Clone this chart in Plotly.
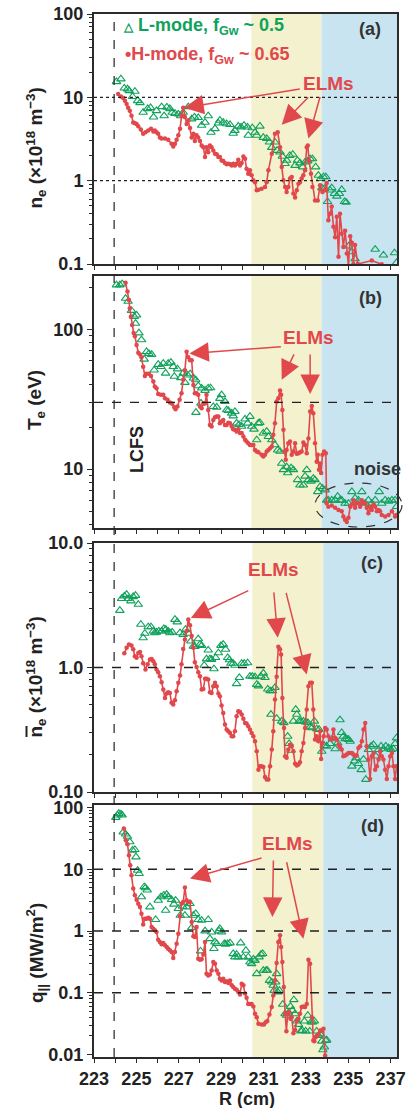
import math
import plotly.graph_objects as go

# ---------------- data ----------------
# (a) electron density n_e (1e18 m^-3)
R_L_ne = [224.06, 224.27, 224.43, 224.58, 224.66, 224.82, 224.93, 225.06, 225.17, 225.32, 225.53, 225.67,
          225.81, 225.95, 226.19, 226.31, 226.44, 226.58, 226.69, 226.82, 226.98, 227.09, 227.21, 227.45,
          227.61, 227.74, 227.92, 228.08, 228.24, 228.39, 228.52, 228.71, 228.87, 228.94, 229.10, 229.26,
          229.42, 229.57, 229.65, 229.81, 229.94, 230.08, 230.24, 230.28, 230.47, 230.60, 230.68, 230.83,
          230.99, 231.15, 231.28, 231.39, 231.54, 231.64, 231.78, 231.89, 232.02, 232.09, 232.24, 232.38,
          232.49, 232.60, 232.72, 232.85, 232.96, 233.09, 233.20, 233.31, 233.46, 233.59, 233.70, 233.75,
          233.83, 233.87, 233.94, 234.02, 234.14, 234.22, 234.35, 234.46, 234.58, 234.69, 234.82, 234.90,
          235.01, 235.17, 235.32, 236.27, 236.66, 237.18, 237.28]
ne_L = [15.4, 16.6, 12.9, 12.6, 12.0, 10.2, 11.8, 9.1, 8.6, 6.6, 7.3, 7.5,
        5.8, 6.9, 7.7, 6.0, 7.6, 7.3, 6.6, 6.4, 6.3, 6.0, 6.6, 7.7,
        5.5, 5.8, 5.7, 4.6, 5.0, 6.0, 3.8, 4.2, 4.9, 5.3, 5.0, 4.8,
        4.7, 3.7, 4.0, 4.5, 4.4, 4.6, 4.4, 3.5, 4.3, 3.8, 3.5, 4.5,
        3.3, 3.2, 2.9, 2.5, 2.9, 2.3, 2.2, 1.96, 1.6, 1.75, 2.0, 2.07,
        1.52, 1.75, 1.63, 1.46, 1.67, 1.72, 1.83, 1.83, 1.46, 1.16, 1.06, 0.82,
        1.11, 0.80, 1.11, 0.56, 0.77, 0.82, 0.70, 0.65, 0.70, 0.78, 0.56, 0.55,
        0.164, 0.140, 0.115, 0.150, 0.128, 0.136, 0.104]

R_H_ne = [224.14, 224.27, 224.38, 224.46, 224.54, 224.61, 224.69, 224.77, 224.85, 224.93, 225.01, 225.09,
          225.21, 225.32, 225.43, 225.56, 225.69, 225.80, 225.87, 225.95, 226.03, 226.11, 226.19, 226.35,
          226.50, 226.66, 226.74, 226.82, 226.90, 226.98, 227.06, 227.13, 227.21, 227.29, 227.37, 227.45,
          227.53, 227.61, 227.69, 227.76, 227.84, 227.92, 228.00, 228.08, 228.16, 228.24, 228.31, 228.39,
          228.47, 228.55, 228.63, 228.71, 228.79, 228.87, 228.94, 229.02, 229.10, 229.18, 229.26, 229.34,
          229.42, 229.50, 229.57, 229.65, 229.73, 229.81, 229.89, 229.97, 230.05, 230.13, 230.20, 230.28,
          230.36, 230.44, 230.52, 230.60, 230.68, 230.76, 230.91, 231.07, 231.15, 231.23, 231.39, 231.54,
          231.67, 231.78, 231.86, 231.94, 232.02, 232.09, 232.17, 232.25, 232.33, 232.41, 232.49, 232.57,
          232.65, 232.72, 232.80, 232.88, 232.96, 233.04, 233.09, 233.15, 233.24, 233.31, 233.43, 233.56,
          233.67, 233.78, 233.87, 233.98, 234.06, 234.14, 234.22, 234.30, 234.38, 234.46, 234.54, 234.61,
          234.69, 234.77, 234.85, 234.93, 235.01, 235.09, 235.17, 235.24, 235.32, 235.45, 236.11, 236.58]
ne_H = [11.0, 10.2, 9.8, 9.1, 8.3, 7.5, 6.9, 6.0, 5.0, 4.9, 4.8, 4.5,
        4.1, 3.65, 3.8, 4.0, 4.2, 3.9, 4.0, 3.8, 3.65, 3.3, 3.2, 3.2,
        3.1, 2.77, 2.57, 2.77, 3.1, 3.5, 4.2, 6.0, 7.5, 5.8, 4.8, 5.3,
        4.3, 3.3, 3.65, 3.0, 3.5, 3.3, 3.0, 2.64, 2.52, 1.92, 2.52, 2.2,
        2.64, 2.52, 2.3, 2.1, 2.07, 1.92, 1.92, 1.75, 1.72, 1.63, 1.57, 1.6,
        1.57, 1.52, 1.6, 1.52, 1.6, 1.78, 1.52, 1.63, 1.95, 1.83, 1.39, 1.21,
        1.33, 1.16, 1.01, 0.96, 0.77, 0.78, 0.80, 0.84, 0.96, 1.33, 2.1, 3.65,
        3.8, 2.52, 1.46, 1.01, 0.84, 0.73, 0.84, 1.06, 1.11, 0.70, 0.63, 0.77,
        0.92, 0.96, 1.06, 1.16, 1.33, 2.52, 2.64, 1.75, 1.21, 0.84, 0.58, 0.58,
        0.88, 0.73, 0.77, 0.94, 0.336, 0.40, 0.49, 0.28, 0.21, 0.37, 0.122, 0.40,
        0.23, 0.16, 0.25, 0.134, 0.095, 0.216, 0.18, 0.10, 0.169, 0.10, 0.11, 0.099]

# (b) electron temperature T_e (eV)
R_L_Te = [224.06, 224.22, 224.33, 224.49, 224.61, 224.77, 224.90, 224.96, 225.01, 225.12, 225.24, 225.37,
          225.48, 225.59, 225.72, 225.84, 226.03, 226.16, 226.27, 226.38, 226.50, 226.63, 226.74, 226.79,
          226.94, 227.10, 227.21, 227.29, 227.42, 227.54, 227.69, 227.80, 227.81, 227.92, 228.05, 228.08,
          228.24, 228.39, 228.50, 228.63, 228.79, 228.94, 229.02, 229.18, 229.26, 229.34, 229.50, 229.57,
          229.65, 229.73, 229.84, 229.97, 230.13, 230.25, 230.36, 230.44, 230.55, 230.68, 230.76, 230.83,
          230.99, 231.15, 231.23, 231.39, 231.54, 231.67, 231.78, 231.86, 231.94, 232.09, 232.14, 232.30,
          232.41, 232.61, 232.72, 232.88, 232.96, 233.04, 233.12, 233.24, 233.35, 233.43, 233.56, 233.67,
          233.78, 233.91, 233.98, 234.06, 234.22, 234.38, 234.50, 234.61, 234.69, 234.85, 235.01, 235.17,
          235.32, 235.48, 235.64, 235.80, 235.95, 236.11, 236.27, 236.46, 236.58, 236.74, 236.90, 237.06,
          237.21, 237.28]
Te_L = [207, 207, 211, 166, 158, 136, 123, 110, 126, 94, 84, 61,
        69, 67, 66, 51, 56, 54, 57, 48.5, 57, 58, 54, 46,
        52, 45, 48.5, 41.6, 47, 48, 44.7, 43.5, 25.4, 39.4, 29.6, 37.9,
        36.5, 37.9, 38.1, 28, 27.7, 32, 34, 30.4, 26.5, 26.2, 25.1, 24,
        25.8, 21.3, 20.8, 20.2, 22.8, 21.3, 23.8, 20.2, 19.3, 16.2, 21.3, 21.5,
        18.1, 18.6, 17.1, 16.2, 14.9, 13.7, 13.4, 11.0, 9.9, 10.4, 9.4, 10.2,
        9.9, 8.4, 7.7, 7.7, 8.9, 9.9, 8.4, 8.2, 8.6, 8.4, 6.9, 7.5,
        7.3, 7.1, 6.0, 6.0, 6.0, 6.0, 6.4, 6.0, 6.0, 5.7, 5.7, 6.9,
        6.2, 6.0, 6.9, 5.7, 6.0, 5.7, 6.0, 6.9, 5.7, 6.0, 5.9, 6.0,
        6.0, 5.4]

R_H_Te = [224.49, 224.58, 224.65, 224.69, 224.74, 224.80, 224.87, 224.93, 225.01, 225.09, 225.17, 225.24,
          225.32, 225.40, 225.48, 225.59, 225.69, 225.80, 225.87, 225.95, 226.03, 226.16, 226.27, 226.35,
          226.47, 226.58, 226.69, 226.79, 226.85, 226.94, 227.04, 227.13, 227.21, 227.29, 227.37, 227.45,
          227.53, 227.61, 227.69, 227.76, 227.84, 227.92, 228.00, 228.08, 228.16, 228.24, 228.31, 228.39,
          228.47, 228.55, 228.63, 228.71, 228.79, 228.87, 228.94, 229.02, 229.10, 229.18, 229.26, 229.34,
          229.42, 229.50, 229.57, 229.65, 229.73, 229.81, 229.89, 229.97, 230.05, 230.13, 230.20, 230.28,
          230.36, 230.44, 230.52, 230.60, 230.68, 230.76, 230.91, 230.99, 231.07, 231.15, 231.23, 231.31,
          231.39, 231.46, 231.54, 231.62, 231.70, 231.78, 231.83, 231.89, 231.94, 231.99, 232.05, 232.09,
          232.17, 232.25, 232.33, 232.41, 232.49, 232.57, 232.65, 232.72, 232.80, 232.88, 232.96, 233.04,
          233.12, 233.20, 233.28, 233.35, 233.43, 233.51, 233.56, 233.62, 233.67, 233.72, 233.78, 233.86,
          233.94, 233.98, 234.06, 234.22, 234.38, 234.54, 234.69, 234.77, 234.85, 234.93, 235.01, 235.09,
          235.17, 235.24, 235.32, 235.40, 235.48, 235.56, 235.64, 235.72, 235.80, 235.87, 235.95, 236.03,
          236.11, 236.19, 236.27, 236.35, 236.43, 236.50, 236.58, 236.74, 236.90, 237.06, 237.21, 237.28]
Te_H = [215, 186, 162, 141, 123, 107, 94, 89, 77, 68, 66, 63,
        54, 46.4, 48, 48, 46.4, 42.3, 38.9, 37.9, 34.5, 34, 34, 32.1,
        31.3, 29.9, 29.3, 27.7, 26.8, 28.1, 31.3, 34.9, 43.5, 51, 69, 63,
        60, 60, 40, 34.9, 34.9, 34, 28.1, 27.3, 29.6, 29.6, 34, 26.5,
        20.7, 20.2, 22.5, 23.5, 23.8, 23.8, 21.3, 21.9, 22.5, 20.7, 20.7, 21.5,
        21.3, 20.2, 19.3, 19.1, 18.6, 19.3, 18.1, 18.1, 17.1, 16.2, 15.8, 15.3,
        14.9, 14.9, 14.9, 13.7, 13.4, 13.2, 12.7, 12.3, 12.7, 13.4, 13.7, 14.1,
        14.5, 17.6, 21.3, 30.4, 32.1, 36.5, 34, 26.5, 19.1, 13.4, 11.7, 13.7,
        15.3, 15.8, 12.7, 13.4, 15.3, 12.9, 13.0, 13.2, 13.4, 15.5, 14.9, 13.0,
        16.6, 25.8, 28.3, 25.1, 15.3, 11.3, 12.7, 9.9, 11.0, 9.4, 12.7, 13.4,
        13.0, 5.7, 5.4, 5.5, 5.3, 5.1, 5.0, 4.6, 4.35, 4.2, 4.5, 5.4,
        5.6, 6.0, 5.3, 5.7, 5.7, 5.4, 6.0, 5.7, 5.7, 5.3, 4.85, 5.4,
        5.1, 5.6, 5.4, 5.0, 5.1, 5.0, 4.7, 4.6, 4.7, 5.0, 4.6, 4.7]

# (c) line-averaged density n_e-bar (1e18 m^-3)
R_L_nb = [224.22, 224.30, 224.43, 224.54, 224.61, 224.74, 224.85, 224.96, 225.09, 225.21, 225.32, 225.40,
          225.56, 225.69, 225.80, 225.87, 225.95, 226.06, 226.19, 226.30, 226.39, 226.50, 226.58, 226.69,
          226.82, 226.93, 227.06, 227.21, 227.32, 227.45, 227.57, 227.69, 227.76, 227.92, 228.00, 228.08,
          228.20, 228.31, 228.39, 228.47, 228.55, 228.66, 228.74, 228.87, 228.99, 229.10, 229.21, 229.31,
          229.39, 229.46, 229.57, 229.65, 229.73, 229.86, 229.97, 230.09, 230.25, 230.36, 230.47, 230.60,
          230.68, 230.76, 230.88, 230.99, 231.07, 231.20, 231.31, 231.35, 231.42, 231.54, 231.62, 231.86,
          231.96, 232.14, 232.21, 232.29, 232.41, 232.52, 232.57, 232.68, 232.77, 232.88, 232.99, 233.09,
          233.20, 233.28, 233.40, 233.51, 233.62, 233.75, 233.87, 233.98, 234.14, 234.25, 234.38, 234.50,
          234.61, 234.69, 234.77, 234.85, 234.93, 235.01, 235.09, 235.17, 235.29, 235.37, 235.48, 235.61,
          235.72, 235.83, 235.95, 236.08, 236.19, 236.30, 236.43, 236.55, 236.66, 236.77, 236.90, 237.02,
          237.13, 237.21, 237.28]
nb_L = [2.87, 3.57, 3.75, 3.86, 3.57, 3.42, 3.70, 3.79, 3.21, 2.22, 1.73, 1.88,
        2.12, 2.12, 1.96, 1.90, 1.92, 1.96, 1.96, 2.05, 2.02, 1.96, 1.90, 1.92,
        2.43, 2.32, 1.90, 1.84, 2.02, 1.88, 1.63, 1.48, 1.47, 1.70, 1.53, 1.50,
        1.04, 1.17, 1.38, 1.17, 1.16, 0.976, 1.20, 1.31, 1.50, 1.53, 1.40, 1.20,
        1.15, 1.08, 1.08, 1.04, 0.74, 0.83, 1.08, 1.08, 1.09, 0.85, 0.85, 0.84,
        0.73, 0.71, 0.85, 0.90, 0.83, 0.67, 0.65, 0.42, 0.65, 0.69, 0.39, 0.37,
        0.36, 0.28, 0.245, 0.216, 0.37, 0.46, 0.42, 0.37, 0.37, 0.37, 0.364, 0.36,
        0.333, 0.327, 0.37, 0.321, 0.318, 0.212, 0.236, 0.233, 0.245, 0.267, 0.222, 0.248,
        0.38, 0.30, 0.28, 0.267, 0.267, 0.264, 0.255, 0.161, 0.177, 0.188, 0.169, 0.151,
        0.183, 0.126, 0.219, 0.233, 0.240, 0.194, 0.219, 0.233, 0.222, 0.233, 0.226, 0.219,
        0.222, 0.245, 0.272]

R_H_nb = [224.43, 224.54, 224.65, 224.77, 224.85, 224.93, 225.01, 225.09, 225.17, 225.24, 225.32, 225.43,
          225.53, 225.64, 225.72, 225.80, 225.87, 225.95, 226.03, 226.11, 226.19, 226.27, 226.35, 226.43,
          226.50, 226.58, 226.66, 226.74, 226.82, 226.90, 226.98, 227.06, 227.13, 227.21, 227.29, 227.37,
          227.45, 227.53, 227.61, 227.69, 227.76, 227.84, 227.92, 228.00, 228.08, 228.16, 228.24, 228.31,
          228.39, 228.47, 228.55, 228.63, 228.71, 228.79, 228.87, 228.94, 229.02, 229.10, 229.18, 229.26,
          229.34, 229.42, 229.50, 229.57, 229.65, 229.73, 229.81, 229.89, 229.97, 230.05, 230.13, 230.20,
          230.28, 230.36, 230.44, 230.52, 230.60, 230.68, 230.76, 230.83, 230.91, 230.99, 231.07, 231.15,
          231.23, 231.31, 231.39, 231.46, 231.54, 231.62, 231.70, 231.78, 231.83, 231.89, 231.97, 232.02,
          232.09, 232.17, 232.25, 232.33, 232.41, 232.49, 232.57, 232.65, 232.72, 232.80, 232.88, 232.96,
          233.04, 233.12, 233.20, 233.28, 233.35, 233.43, 233.51, 233.59, 233.67, 233.72, 233.78, 233.84,
          233.91, 233.98, 234.06, 234.14, 234.22, 234.30, 234.38, 234.46, 234.54, 234.61, 234.69, 234.77,
          234.85, 234.93, 235.01, 235.09, 235.17, 235.24, 235.32, 235.40, 235.48, 235.56, 235.64, 235.72,
          235.80, 235.87, 235.95, 236.03, 236.11, 236.19, 236.27, 236.35, 236.43, 236.50, 236.58, 236.66,
          236.74, 236.82, 236.90, 236.98, 237.06, 237.13, 237.21, 237.28]
nb_H = [1.30, 1.44, 1.53, 1.50, 1.40, 1.23, 1.20, 1.31, 1.33, 1.23, 1.08, 0.964,
        1.06, 1.16, 1.17, 1.12, 1.06, 0.964, 0.917, 0.851, 0.762, 0.665, 0.570, 0.618,
        0.633, 0.625, 0.520, 0.504, 0.546, 0.645, 0.753, 0.862, 1.06, 1.41, 1.68, 1.96,
        2.43, 2.18, 1.79, 1.44, 1.10, 1.01, 0.917, 0.851, 0.665, 0.673, 0.811, 0.811,
        0.80, 0.633, 0.625, 0.708, 0.753, 0.708, 0.618, 0.588, 0.495, 0.432, 0.348, 0.317,
        0.308, 0.298, 0.281, 0.281, 0.308, 0.406, 0.446, 0.44, 0.419, 0.387, 0.359, 0.355,
        0.337, 0.317, 0.298, 0.281, 0.256, 0.212, 0.151, 0.161, 0.161, 0.159, 0.132, 0.126,
        0.126, 0.161, 0.219, 0.308, 0.553, 0.841, 1.47, 1.40, 1.27, 0.570, 0.327, 0.194,
        0.188, 0.219, 0.240, 0.233, 0.212, 0.169, 0.163, 0.166, 0.173, 0.212, 0.248, 0.327,
        0.459, 0.708, 0.753, 0.753, 0.459, 0.264, 0.281, 0.256, 0.308, 0.184, 0.248, 0.281,
        0.327, 0.317, 0.281, 0.267, 0.264, 0.317, 0.272, 0.264, 0.240, 0.23, 0.219, 0.194,
        0.196, 0.20, 0.206, 0.206, 0.206, 0.20, 0.194, 0.196, 0.226, 0.233, 0.256, 0.317,
        0.359, 0.233, 0.182, 0.127, 0.194, 0.206, 0.151, 0.161, 0.182, 0.212, 0.194, 0.182,
        0.151, 0.127, 0.161, 0.194, 0.206, 0.161, 0.127, 0.161]

# (d) parallel heat flux q_par (MW/m^2)
R_L_q = [224.03, 224.11, 224.17, 224.27, 224.33, 224.38, 224.49, 224.58, 224.69, 224.82, 224.93, 224.98,
         225.06, 225.13, 225.24, 225.37, 225.43, 225.51, 225.64, 225.91, 226.03, 226.16, 226.30, 226.38,
         226.43, 226.50, 226.66, 226.77, 226.85, 226.98, 227.07, 227.18, 227.29, 227.37, 227.53, 227.61,
         227.69, 227.80, 227.92, 228.03, 228.08, 228.24, 228.39, 228.47, 228.55, 228.66, 228.71, 228.79,
         228.90, 228.94, 229.02, 229.15, 229.21, 229.31, 229.42, 229.57, 229.65, 229.73, 229.81, 229.92,
         230.05, 230.17, 230.28, 230.36, 230.44, 230.52, 230.60, 230.68, 230.79, 230.88, 230.96, 230.99,
         231.12, 231.18, 231.28, 231.39, 231.46, 231.50, 231.57, 231.62, 231.67, 231.75, 231.91, 232.02,
         232.09, 232.17, 232.27, 232.36, 232.43, 232.49, 232.57, 232.65, 232.76, 232.83, 232.93, 232.99,
         233.09, 233.18, 233.24, 233.32, 233.40, 233.51, 233.59, 233.67, 233.75, 233.80, 233.87, 233.94,
         233.98]
q_L = [68.9, 75, 80, 78, 75, 40, 37, 34, 27.7, 20.3, 20.8, 15.8,
       9.6, 8.5, 3.56, 5.2, 5.0, 4.6, 2.45, 1.53, 3.14, 3.56, 3.79, 2.16,
       3.9, 3.56, 3.22, 2.71, 3.14, 2.30, 1.79, 2.51, 1.79, 2.45, 2.77, 1.13,
       1.79, 1.91, 1.53, 0.474, 1.49, 1.0, 1.53, 0.75, 0.96, 0.518, 0.664, 0.625,
       1.0, 1.09, 0.96, 0.625, 0.61, 0.625, 0.64, 0.429, 0.379, 0.418, 0.379, 0.64,
       0.379, 0.485, 0.379, 0.314, 0.295, 0.35, 0.333, 0.203, 0.379, 0.418, 0.43, 0.23,
       0.23, 0.23, 0.158, 0.149, 0.132, 0.109, 0.149, 0.203, 0.103, 0.109, 0.065, 0.0456,
       0.043, 0.0468, 0.06, 0.0517, 0.077, 0.0456, 0.0347, 0.0306, 0.0239, 0.0245, 0.0347, 0.0239,
       0.043, 0.0239, 0.0335, 0.0335, 0.0347, 0.0239, 0.0203, 0.0215, 0.0164, 0.0119, 0.0132, 0.0168,
       0.0172]

R_H_q = [224.41, 224.50, 224.58, 224.65, 224.71, 224.77, 224.85, 224.93, 225.01, 225.09, 225.17, 225.24,
         225.32, 225.40, 225.48, 225.56, 225.64, 225.72, 225.80, 225.87, 225.95, 226.03, 226.11, 226.19,
         226.27, 226.35, 226.43, 226.50, 226.58, 226.66, 226.74, 226.82, 226.90, 226.98, 227.06, 227.13,
         227.21, 227.29, 227.37, 227.45, 227.53, 227.61, 227.69, 227.76, 227.84, 227.92, 228.00, 228.08,
         228.16, 228.24, 228.31, 228.39, 228.47, 228.55, 228.63, 228.71, 228.79, 228.87, 228.94, 229.02,
         229.10, 229.18, 229.26, 229.34, 229.42, 229.50, 229.57, 229.65, 229.73, 229.81, 229.89, 229.97,
         230.05, 230.13, 230.20, 230.28, 230.36, 230.44, 230.52, 230.60, 230.68, 230.76, 230.91, 231.02,
         231.10, 231.18, 231.28, 231.39, 231.46, 231.54, 231.62, 231.70, 231.78, 231.83, 231.89, 231.96,
         232.02, 232.08, 232.14, 232.21, 232.27, 232.33, 232.41, 232.49, 232.57, 232.65, 232.72, 232.80,
         232.88, 232.96, 233.04, 233.12, 233.20, 233.28, 233.35, 233.40, 233.46, 233.51, 233.59, 233.67,
         233.75, 233.83, 233.91]
q_H = [45.6, 29.5, 25.4, 16.9, 11.6, 8.0, 4.86, 3.79, 3.22, 2.77, 2.45, 1.91,
       1.28, 1.58, 1.58, 1.64, 1.58, 1.16, 1.09, 1.03, 0.96, 0.723, 0.664, 0.608,
       0.637, 0.586, 0.551, 0.518, 0.486, 0.456, 0.365, 0.456, 0.624, 0.905, 1.73, 2.77,
       2.95, 5.05, 3.14, 2.95, 2.95, 1.40, 0.82, 0.80, 1.16, 0.356, 0.342, 0.35,
       0.418, 0.664, 0.203, 0.19, 0.197, 0.23, 0.314, 0.295, 0.23, 0.203, 0.169, 0.158,
       0.169, 0.149, 0.154, 0.144, 0.158, 0.132, 0.124, 0.116, 0.112, 0.103, 0.094, 0.140,
       0.132, 0.097, 0.083, 0.066, 0.066, 0.066, 0.060, 0.0456, 0.0403, 0.0314, 0.0306, 0.0306,
       0.0334, 0.035, 0.0446, 0.0586, 0.0905, 0.158, 0.303, 0.664, 0.851, 0.55, 0.314, 0.124,
       0.0456, 0.0239, 0.0456, 0.0487, 0.0379, 0.0403, 0.0222, 0.025, 0.035, 0.0379, 0.0456, 0.0586,
       0.060, 0.0586, 0.066, 0.342, 0.295, 0.0403, 0.0169, 0.0164, 0.019, 0.0203, 0.021, 0.0245,
       0.0245, 0.0262, 0.0096]

# axis tick values / labels
R_major = [223, 225, 227, 229, 231, 233, 235, 237]
R_minor = [224, 226, 228, 230, 232, 234, 236]
ticks_a = [0.1, 1, 10, 100]
labels_a = ["0.1", "1", "10", "100"]
ticks_b = [10, 100]
labels_b = ["10", "100"]
ticks_c = [0.1, 1, 10]
labels_c = ["0.10", "1.0", "10.0"]
ticks_d = [0.01, 0.1, 1, 10, 100]
labels_d = ["0.01", "0.1", "1", "10", "100"]

# ---------------- styling ----------------
RED = "#e1484b"
GREEN = "#10a25c"
FRAME = "#2b2b2b"
DARK = "#333333"
YELLOW = "#f4f1cf"
BLUE = "#c8e4f1"
FONT = "Liberation Sans, Arial, Helvetica, sans-serif"
FS = 18

W, H = 414, 1108
ML, MR, MT, MB = 94, 17, 14, 51
PW, PH = W - ML - MR, H - MT - MB


def ypap(py):
    return (H - MB - py) / PH


def xpap(px):
    return (px - ML) / PW


def label(text, px, py, size=FS, color="#222", angle=0):
    return dict(text=text, xref="paper", yref="paper", x=xpap(px), y=ypap(py),
                xanchor="center", yanchor="middle", textangle=angle, showarrow=False,
                font=dict(family=FONT, size=size, color=color))


panels = [
    dict(top=14, bottom=264, yr=[-1, 2], tv=ticks_a, tt=labels_a,
         RL=R_L_ne, L=ne_L, RH=R_H_ne, Hv=ne_H, band=(230.42, 233.74),
         hl=[10, 1], dash="dot",
         title="n<sub>e</sub> (×10<sup>18</sup> m<sup>−3</sup>)", tb=210),
    dict(top=276, bottom=528, yr=[math.log10(3.8), math.log10(240)], tv=ticks_b, tt=labels_b,
         RL=R_L_Te, L=Te_L, RH=R_H_Te, Hv=Te_H, band=(230.42, 233.74),
         hl=[30], dash="dash", title="T<sub>e</sub> (eV)", tb=432),
    dict(top=543, bottom=792, yr=[-1, 1], tv=ticks_c, tt=labels_c,
         RL=R_L_nb, L=nb_L, RH=R_H_nb, Hv=nb_H, band=(230.47, 233.82),
         hl=[1], dash="dash",
         title="n<sub>e</sub> (×10<sup>18</sup> m<sup>−3</sup>)", tb=739),
    dict(top=805, bottom=1057, yr=[-2.04, 2.04], tv=ticks_d, tt=labels_d,
         RL=R_L_q, L=q_L, RH=R_H_q, Hv=q_H, band=(230.47, 233.82),
         hl=[10, 1, 0.1], dash="dash",
         title="q<sub>||</sub> (MW/m<sup>2</sup>)", tb=1005),
]

fig = go.Figure()
shapes = []
annotations = []
layout_axes = {}

for i, p in enumerate(panels, start=1):
    sfx = "" if i == 1 else str(i)
    xa, ya = "x" + sfx, "y" + sfx
    fig.add_trace(go.Scatter(
        x=p["RL"], y=p["L"], xaxis=xa, yaxis=ya, mode="markers",
        marker=dict(symbol="triangle-up-open", size=7.5, color=GREEN, line=dict(width=1.1, color=GREEN)),
        showlegend=False, cliponaxis=True))
    fig.add_trace(go.Scatter(
        x=p["RH"], y=p["Hv"], xaxis=xa, yaxis=ya, mode="lines+markers",
        line=dict(color=RED, width=1.6),
        marker=dict(symbol="circle", size=4.5, color=RED),
        showlegend=False, cliponaxis=True))

    lo, hi = p["yr"]
    minor = []
    for d in range(math.floor(lo) - 1, math.ceil(hi) + 1):
        for m in range(2, 10):
            v = m * 10 ** d
            if lo <= math.log10(v) <= hi:
                minor.append(v)

    dom = [ypap(p["bottom"]), ypap(p["top"])]
    layout_axes["xaxis" + sfx] = dict(
        domain=[0, 1], range=[223, 237.3], anchor=ya, showline=True, mirror=True,
        linecolor=FRAME, linewidth=2, ticks="outside", ticklen=4, tickwidth=1, tickcolor=FRAME,
        tickmode="array", tickvals=R_major, ticktext=[str(v) for v in R_major],
        minor=dict(tickmode="array", tickvals=R_minor, ticks="outside", ticklen=4, tickwidth=1,
                   tickcolor=FRAME, showgrid=False),
        showticklabels=(i == 4), showgrid=False, zeroline=False,
        tickfont=dict(family=FONT, size=FS, color="#222", weight="bold"))
    layout_axes["yaxis" + sfx] = dict(
        type="log", domain=dom, range=p["yr"], anchor=xa, showline=True, mirror=True,
        linecolor=FRAME, linewidth=2, ticks="outside", ticklen=5, tickwidth=1.2, tickcolor=FRAME,
        tickmode="array", tickvals=p["tv"], ticktext=p["tt"], showgrid=False, zeroline=False,
        minor=dict(tickmode="array", tickvals=minor, ticks="outside", ticklen=3, tickwidth=1,
                   tickcolor=FRAME, showgrid=False),
        tickfont=dict(family=FONT, size=FS, color="#222", weight="bold"))

    shapes.append(dict(type="rect", xref=xa, yref=ya + " domain", x0=p["band"][0], x1=p["band"][1],
                       y0=0, y1=1, fillcolor=YELLOW, line=dict(width=0), layer="below"))
    shapes.append(dict(type="rect", xref=xa, yref=ya + " domain", x0=p["band"][1], x1=237.3,
                       y0=0, y1=1, fillcolor=BLUE, line=dict(width=0), layer="below"))
    for v in p["hl"]:
        shapes.append(dict(type="line", xref=xa + " domain", yref=ya, x0=0, x1=1,
                           y0=v, y1=v, line=dict(color="#222", width=1.3, dash=p["dash"])))
    annotations.append(dict(text="<b>" + p["title"] + "</b>", xref="paper", yref="paper",
                            x=xpap(36), y=ypap(p["tb"]), textangle=-90, showarrow=False,
                            xanchor="center", yanchor="bottom",
                            font=dict(family=FONT, size=19, color="#222")))

# overbar of the n in panel (c) title
shapes.append(dict(type="line", xref="paper", yref="paper", x0=xpap(26.5), x1=xpap(26.5),
                   y0=ypap(737), y1=ypap(726), line=dict(color="#222", width=2)))

# LCFS vertical line through all panels
shapes.append(dict(type="line", xref="x", yref="paper", x0=223.95, x1=223.95, y0=0, y1=1,
                   line=dict(color="#222", width=1.2, dash="dash")))
# noise ellipse
shapes.append(dict(type="circle", xref="paper", yref="paper",
                   x0=xpap(315), x1=xpap(402), y0=ypap(527), y1=ypap(483),
                   line=dict(color="#333", width=1.2, dash="dash")))

for lab, (px, py) in zip(["(a)", "(b)", "(c)", "(d)"], [(370, 29), (370, 298), (372, 563), (372, 826)]):
    annotations.append(label("<b>" + lab + "</b>", px, py, color=DARK))

annotations.append(dict(
    text='<b><span style="font-size:12px">△</span> L-mode, f<sub>Gw</sub> ~ 0.5</b>',
    xref="paper", yref="paper", x=xpap(121), y=ypap(27), xanchor="left", yanchor="middle",
    showarrow=False, font=dict(family=FONT, size=FS, color=GREEN)))
annotations.append(dict(
    text='<b>•H-mode, f<sub>Gw</sub> ~ 0.65</b>',
    xref="paper", yref="paper", x=xpap(123), y=ypap(55), xanchor="left", yanchor="middle",
    showarrow=False, font=dict(family=FONT, size=FS, color=RED)))

elm_text = [(328, 83), (308, 337), (273, 569), (287, 843)]
for px, py in elm_text:
    annotations.append(label("<b>ELMs</b>", px, py, size=19, color=RED))

arrows = [
    (1, 227.26, 7.5, 117, -19), (1, 231.86, 4.7, 28, -29), (1, 233.12, 3.2, 12, -43),
    (2, 227.5, 67, 93, -7), (2, 231.86, 43.5, 13, -27), (2, 233.2, 34.5, 0, -41),
    (3, 227.57, 2.5, 59, -28), (3, 231.67, 1.73, -4, -47), (3, 233.04, 0.88, -21, -83),
    (4, 227.53, 7.06, 73, -21), (4, 231.42, 1.69, 1, -58), (4, 232.88, 0.75, -17, -78),
]
for pi, rx, vy, ax, ay in arrows:
    sfx = "" if pi == 1 else str(pi)
    annotations.append(dict(text="", x=rx, y=math.log10(vy), xref="x" + sfx, yref="y" + sfx,
                            showarrow=True, ax=ax, ay=ay, arrowcolor=RED, arrowwidth=1.5,
                            arrowhead=2, arrowsize=2.6))

annotations.append(label("<b>LCFS</b>", 137, 450, angle=-90))
annotations.append(label("<b>noise</b>", 377, 469, color=DARK))
annotations.append(label("<b>R (cm)</b>", 247, 1099))

fig.update_layout(
    width=W, height=H, margin=dict(l=ML, r=MR, t=MT, b=MB, autoexpand=False),
    paper_bgcolor="white", plot_bgcolor="white", showlegend=False,
    shapes=shapes, annotations=annotations, font=dict(family=FONT),
    **layout_axes)

fig.write_html("out.html", config={"displayModeBar": False},
               post_script="document.body.style.margin='0';document.body.style.overflow='hidden';")
